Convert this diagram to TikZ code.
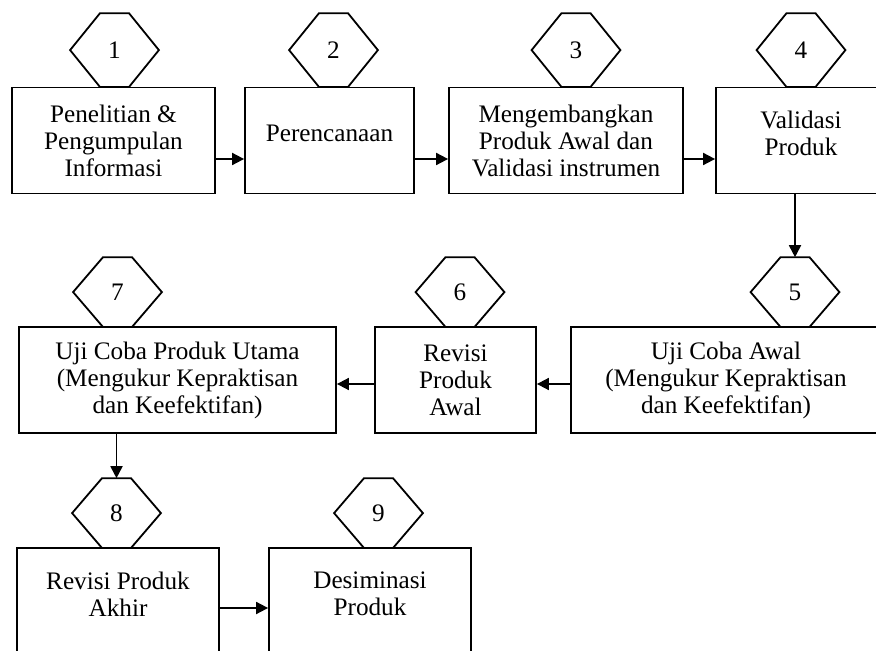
\documentclass[tikz,border=0pt]{standalone}
\usepackage{fontspec}
\setmainfont{Liberation Serif}
\usetikzlibrary{arrows.meta}
\newcommand{\lowpad}[1]{\rule[-#1]{0pt}{#1}}

\begin{document}
\begin{tikzpicture}[x=0.5pt, y=-0.5pt, line width=0.9pt,
  >={Triangle[length=6pt,width=6pt]},
  every node/.style={font=\fontsize{12.6}{13.5}\selectfont},
  box/.style={draw, align=center, inner sep=0pt, minimum height=53pt},
  hexa/.style={inner sep=0pt, minimum width=43.5pt, minimum height=34pt, anchor=south}]
	\useasboundingbox (0,0) rectangle (876,651);
	\node[box, minimum width=101.5pt] (P1) at (113.5,140.5) {Penelitian \&\\Pengumpulan\\Informasi};
	\node[box, minimum width=84.5pt] (P2) at (329.5,140.5) {Perencanaan\lowpad{7.5pt}};
	\node[box, minimum width=117pt] (P3) at (566,140.5) {Mengembangkan\\Produk Awal dan\\Validasi instrumen};
	\node[box, minimum width=85pt] (P4) at (801,140.5) {Validasi\\Produk\lowpad{7.5pt}};
	\node[box, minimum width=155pt] (P5) at (726,380) {Uji Coba Awal\\(Mengukur Kepraktisan\\dan Keefektifan)};
	\node[box, minimum width=80.5pt] (P6) at (455.5,380) {Revisi\\Produk\\Awal};
	\node[box, minimum width=158.5pt] (P7) at (177.5,380) {Uji Coba Produk Utama\\(Mengukur Kepraktisan\\dan Keefektifan)};
	\node[box, minimum width=101pt] (P8) at (118,601) {Revisi Produk\\Akhir\lowpad{7pt}};
	\node[box, minimum width=101pt] (P9) at (370,601) {Desiminasi\\Produk\lowpad{7pt}};
	\node[hexa, minimum height=36pt] (H1) at (114.5,87) {1};
	\node[hexa, minimum height=36pt] (H2) at (333.5,87) {2};
	\node[hexa, minimum height=36pt] (H3) at (576,87) {3};
	\node[hexa, minimum height=36pt] (H4) at (801,87) {4};
	\node[hexa] (H5) at (795,327) {5};
	\node[hexa] (H6) at (460,327) {6};
	\node[hexa] (H7) at (117.5,327) {7};
	\node[hexa] (H8) at (116.5,548) {8};
	\node[hexa] (H9) at (378.5,548) {9};
	\foreach \i in {1,...,9}
		\draw (H\i.west) -- ([xshift=-7.25pt]H\i.north) -- ([xshift=7.25pt]H\i.north)
			-- (H\i.east) -- ([xshift=7.25pt]H\i.south) -- ([xshift=-7.25pt]H\i.south) -- cycle;
	\draw [->] ([yshift=-9.25pt]P1.east) -- ([yshift=-9.25pt]P2.west);
	\draw [->] ([yshift=-9.25pt]P2.east) -- ([yshift=-9.25pt]P3.west);
	\draw [->] ([yshift=-9.25pt]P3.east) -- ([yshift=-9.25pt]P4.west);
	\draw [->] (H5 |- P4.south) -- (H5.north);
	\draw [->] ([yshift=-2pt]P5.west) -- ([yshift=-2pt]P6.east);
	\draw [->] ([yshift=-2pt]P6.west) -- ([yshift=-2pt]P7.east);
	\draw [->] (H8 |- P7.south) -- (H8.north);
	\draw [->] ([yshift=-3.5pt]P8.east) -- ([yshift=-3.5pt]P9.west);
\end{tikzpicture}
\end{document}
